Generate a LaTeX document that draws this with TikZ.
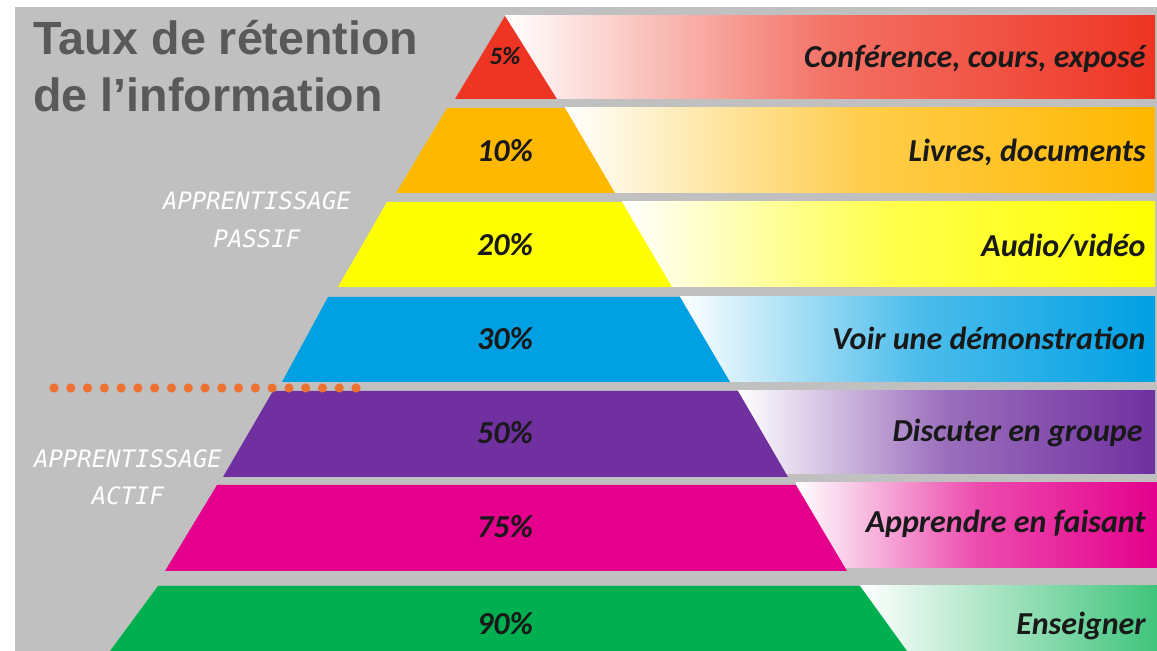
\documentclass[tikz,border=0pt]{standalone}
\usepackage{fontspec}
\usetikzlibrary{positioning}
\newfontfamily\titlefont{Liberation Sans}
\newfontfamily\labelfont{Carlito}
\newfontfamily\apprfont{DejaVu Sans Mono}
\definecolor{bggray}{HTML}{C0C0C0}
\definecolor{titlegray}{HTML}{595959}
\definecolor{lvlred}{HTML}{EE3524}
\definecolor{lvlorange}{HTML}{FFB800}
\definecolor{lvlyellow}{HTML}{FFFF00}
\definecolor{lvlblue}{HTML}{00A0E3}
\definecolor{lvlpurple}{HTML}{7030A0}
\definecolor{lvlmagenta}{HTML}{E4008C}
\definecolor{lvlgreen}{HTML}{00B050}
\definecolor{dotorange}{HTML}{ED7131}

\tikzset{
  pct/.style={font=\labelfont\bfseries\itshape\fontsize{16}{19}\selectfont, text=black!90, anchor=base, inner sep=0pt},
  activity/.style={font=\labelfont\bfseries\itshape\fontsize{16}{19}\selectfont, text=black!90, anchor=base east, inner sep=0pt},
  mode/.style={font=\apprfont\itshape\fontsize{12}{14}\selectfont, text=white, anchor=base, inner sep=0pt},
  headline/.style={font=\titlefont\bfseries\fontsize{23.3}{27}\selectfont, text=titlegray, anchor=base west, inner sep=0pt},
  fade/.style={left color=white, right color=#1, middle color=#1!70!white},
}

\begin{document}
\begin{tikzpicture}[x=0.5pt, y=-0.5pt]
  \useasboundingbox (0,0) rectangle (1157,651);

  % Background
  \fill[white] (0,0) rectangle (1157,651);
  \fill[bggray] (15,7) rectangle (1157,651);

  % Faded bars on the right
  \shade[fade=lvlred] (505,16) rectangle (1155,99);
  \shade[fade=lvlorange] (565,108) rectangle (1155,193);
  \shade[fade=lvlyellow] (622,202) rectangle (1155,287);
  \shade[fade=lvlblue] (680,297) rectangle (1155,382);
  \shade[fade=lvlpurple] (738,391) rectangle (1155,474);
  \shade[fade=lvlmagenta] (796,483) rectangle (1157,568);
  \shade[left color=white, right color=lvlgreen!75!white] (860,586) rectangle (1157,651);

  % Pyramid levels
  \fill[lvlred] (505,16) -- (557,99) -- (455,99) -- cycle;
  \fill[lvlorange] (447,108) -- (565,108) -- (615,193) -- (396,193) -- cycle;
  \fill[lvlyellow] (387,202) -- (622,202) -- (672,287) -- (338,287) -- cycle;
  \fill[lvlblue] (328,297) -- (680,297) -- (730,382) -- (282,382) -- cycle;
  \fill[lvlpurple] (273,391) -- (738,391) -- (788,477) -- (223,477) -- cycle;
  \fill[lvlmagenta] (217,485) -- (796,485) -- (847,571) -- (165,571) -- cycle;
  \fill[lvlgreen] (158,586) -- (860,586) -- (907,651) -- (110,651) -- cycle;

  % Percentages
  \node[pct, font=\labelfont\bfseries\itshape\fontsize{12.5}{15}\selectfont] (p5) at (505,65) {5\%};
  \node[pct] (p10) at (505,162) {10\%};
  \node[pct] (p20) at (505,256) {20\%};
  \node[pct] (p30) at (505,350) {30\%};
  \node[pct] (p50) at (505,444) {50\%};
  \node[pct] (p75) at (505,538) {75\%};
  \node[pct] (p90) at (505,635) {90\%};

  % Activities
  \node[activity] (conf) at (1146,68) {Conférence, cours, exposé};
  \node[activity] (livres) at (1146,162) {Livres, documents};
  \node[activity] (audio) at (1146,257) {Audio/vidéo};
  \node[activity] (demo) at (1146,350) {Voir une démonstration};
  \node[activity] (discuter) at (1143,442) {Discuter en groupe};
  \node[activity] (faire) at (1146,533) {Apprendre en faisant};
  \node[activity] (enseigner) at (1146,635) {Enseigner};

  % Title
  \node[headline] (title1) at (33,55) {Taux de rétention};
  \node[headline] (title2) at (33,112) {de l’information};

  % Passive / active
  \node[mode] (passif1) at (257,210) {APPRENTISSAGE};
  \node[mode] (passif2) at (257,248) {PASSIF};
  \node[mode] (actif1) at (128,468) {APPRENTISSAGE};
  \node[mode] (actif2) at (128,505) {ACTIF};

  % Dotted separator
  \foreach \i in {0,...,18}
    \fill[dotorange] (54+16.78*\i,388) circle (2.3pt);
\end{tikzpicture}
\end{document}
